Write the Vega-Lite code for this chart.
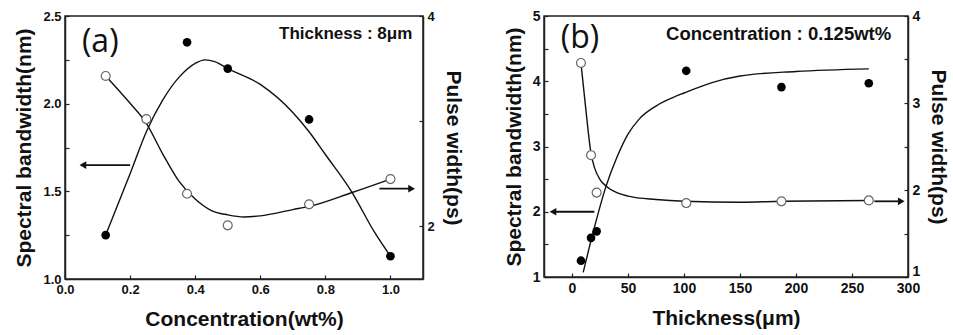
{
  "$schema": "https://vega.github.io/schema/vega-lite/v6.json",
  "background": "white",
  "padding": {"left": 13, "top": 8, "right": 0, "bottom": 0},
  "spacing": 38,
  "config": {
    "view": {"stroke": "#222", "strokeWidth": 1.5},
    "axis": {
      "labelFont": "Liberation Sans", "labelFontWeight": "bold", "labelFontSize": 13, "labelColor": "#111",
      "titleFont": "Liberation Sans", "titleFontWeight": "bold", "titleFontSize": 21, "titleColor": "#111",
      "domainColor": "#222", "domainWidth": 1.5, "tickColor": "#222", "tickWidth": 1.2, "tickSize": -4,
      "labelPadding": 8, "grid": false, "labelFlush": false, "labelOverlap": false
    }
  },
  "datasets": {
    "a_bw_pts": [{"x":0.125,"y":1.25},{"x":0.375,"y":2.35},{"x":0.5,"y":2.2},{"x":0.75,"y":1.91},{"x":1.0,"y":1.13}],
    "a_bw_fit": [{"x":0.125,"y":1.25},{"x":0.2,"y":1.6},{"x":0.25,"y":1.84},{"x":0.3,"y":2.02},{"x":0.35,"y":2.15},{"x":0.4,"y":2.23},{"x":0.43,"y":2.25},{"x":0.46,"y":2.24},{"x":0.5,"y":2.2},{"x":0.6,"y":2.11},{"x":0.7,"y":1.95},{"x":0.75,"y":1.84},{"x":0.8,"y":1.71},{"x":0.88,"y":1.5},{"x":0.95,"y":1.27},{"x":1.0,"y":1.13}],
    "a_pw_pts": [{"x":0.125,"y":3.43},{"x":0.25,"y":3.02},{"x":0.375,"y":2.31},{"x":0.5,"y":2.01},{"x":0.75,"y":2.21},{"x":1.0,"y":2.45}],
    "a_pw_fit": [{"x":0.125,"y":3.43},{"x":0.2,"y":3.17},{"x":0.25,"y":2.98},{"x":0.3,"y":2.69},{"x":0.35,"y":2.43},{"x":0.4,"y":2.26},{"x":0.45,"y":2.15},{"x":0.5,"y":2.11},{"x":0.55,"y":2.09},{"x":0.6,"y":2.1},{"x":0.7,"y":2.16},{"x":0.75,"y":2.19},{"x":0.88,"y":2.32},{"x":1.0,"y":2.45}],
    "a_arrows": [{"x":0.2,"x2":0.055,"y":1.65,"dir":"left"},{"x":0.966,"x2":1.065,"y":1.515,"dir":"right"}],
    "b_bw_pts": [{"x":8,"y":1.25},{"x":17,"y":1.6},{"x":22,"y":1.7},{"x":102,"y":4.16},{"x":187,"y":3.91},{"x":265,"y":3.97}],
    "b_bw_fit": [{"x":10,"y":1.07},{"x":20,"y":1.76},{"x":30,"y":2.37},{"x":40,"y":2.83},{"x":50,"y":3.19},{"x":60,"y":3.42},{"x":75,"y":3.62},{"x":90,"y":3.75},{"x":100,"y":3.82},{"x":125,"y":3.98},{"x":150,"y":4.08},{"x":200,"y":4.15},{"x":265,"y":4.19}],
    "b_pw_pts": [{"x":8,"y":3.46},{"x":17,"y":2.4},{"x":22,"y":1.97},{"x":102,"y":1.85},{"x":187,"y":1.87},{"x":265,"y":1.88}],
    "b_pw_fit": [{"x":8,"y":3.46},{"x":12,"y":2.97},{"x":17,"y":2.42},{"x":20,"y":2.26},{"x":25,"y":2.12},{"x":30,"y":2.05},{"x":40,"y":1.97},{"x":50,"y":1.93},{"x":75,"y":1.89},{"x":100,"y":1.87},{"x":150,"y":1.86},{"x":187,"y":1.87},{"x":265,"y":1.88}],
    "b_arrows": [{"x":20,"x2":-17,"y":2.0,"dir":"left"},{"x":270,"x2":294,"y":2.16,"dir":"right"}]
  },
  "hconcat": [
    {
      "width": 358, "height": 263,
      "resolve": {"scale": {"y": "independent"}},
      "layer": [
        {
          "encoding": {
            "x": {"field": "x", "type": "quantitative", "scale": {"domain": [0, 1.1], "nice": false, "zero": false},
                  "axis": {"title": "Concentration(wt%)", "values": [0,0.1,0.2,0.3,0.4,0.5,0.6,0.7,0.8,0.9,1.0,1.1], "labelExpr": "round(datum.value*10)%2==0 ? format(datum.value,'.1f') : ''", "titlePadding": 12}},
            "y": {"field": "y", "type": "quantitative", "scale": {"domain": [1, 2.5], "nice": false, "zero": false},
                  "axis": {"orient": "left", "title": "Spectral bandwidth(nm)", "values": [1,1.25,1.5,1.75,2,2.25,2.5], "labelExpr": "round(datum.value*4)%2==0 ? format(datum.value,'.1f') : ''", "titlePadding": 8}}
          },
          "layer": [
            {"data": {"name": "a_bw_fit"}, "mark": {"type": "line", "interpolate": "monotone", "color": "#111", "strokeWidth": 1.4}},
            {"data": {"name": "a_bw_pts"}, "mark": {"type": "point", "filled": true, "color": "#000", "size": 75, "opacity": 1}},
            {"data": {"name": "a_arrows"}, "mark": {"type": "rule", "color": "#111", "strokeWidth": 1.8}, "encoding": {"x2": {"field": "x2"}}},
            {"data": {"name": "a_arrows"}, "mark": {"type": "point", "filled": true, "color": "#111", "size": 60, "opacity": 1},
             "encoding": {"x": {"field": "x2", "type": "quantitative"}, "shape": {"field": "dir", "type": "nominal", "scale": {"domain": ["left","right"], "range": ["triangle-left","triangle-right"]}, "legend": null}}},
            {"data": {"values": [{"x": 0.052, "y": 2.35, "t": "(a)"}]}, "mark": {"type": "text", "align": "left", "baseline": "middle", "font": "Open Sans", "fontSize": 32, "color": "#111"}, "encoding": {"text": {"field": "t"}}},
            {"data": {"values": [{"x": 1.067, "y": 2.40, "t": "Thickness : 8μm"}]}, "mark": {"type": "text", "align": "right", "baseline": "middle", "font": "Liberation Sans", "fontWeight": "bold", "fontSize": 17, "color": "#111"}, "encoding": {"text": {"field": "t"}}}
          ]
        },
        {
          "encoding": {
            "x": {"field": "x", "type": "quantitative", "scale": {"domain": [0, 1.1], "nice": false, "zero": false}},
            "y": {"field": "y", "type": "quantitative", "scale": {"domain": [1.5, 4], "nice": false, "zero": false},
                  "axis": {"orient": "right", "title": "Pulse width(ps)", "values": [2,3,4], "labelExpr": "datum.value==3 ? '' : format(datum.value,'d')", "titlePadding": 8}}
          },
          "layer": [
            {"data": {"name": "a_pw_fit"}, "mark": {"type": "line", "interpolate": "monotone", "color": "#111", "strokeWidth": 1.4}},
            {"data": {"name": "a_pw_pts"}, "mark": {"type": "point", "filled": false, "fill": "white", "fillOpacity": 1, "stroke": "#666", "strokeWidth": 1.2, "size": 80, "opacity": 1}}
          ]
        }
      ]
    },
    {
      "width": 364, "height": 261,
      "resolve": {"scale": {"y": "independent"}},
      "layer": [
        {
          "encoding": {
            "x": {"field": "x", "type": "quantitative", "scale": {"domain": [-25, 300], "nice": false, "zero": false},
                  "axis": {"title": "Thickness(μm)", "values": [0,25,50,75,100,125,150,175,200,225,250,275,300], "labelExpr": "datum.value%50==0 ? format(datum.value,'d') : ''", "labelFontSize": 14, "titlePadding": 12}},
            "y": {"field": "y", "type": "quantitative", "scale": {"domain": [1, 5], "nice": false, "zero": false},
                  "axis": {"orient": "left", "title": "Spectral bandwidth(nm)", "values": [1,1.5,2,2.5,3,3.5,4,4.5,5], "labelExpr": "datum.value%1==0 ? format(datum.value,'d') : ''", "labelFontSize": 14, "titlePadding": 8}}
          },
          "layer": [
            {"data": {"name": "b_bw_fit"}, "mark": {"type": "line", "interpolate": "monotone", "color": "#111", "strokeWidth": 1.4}},
            {"data": {"name": "b_bw_pts"}, "mark": {"type": "point", "filled": true, "color": "#000", "size": 75, "opacity": 1}},
            {"data": {"name": "b_arrows"}, "mark": {"type": "rule", "color": "#111", "strokeWidth": 1.8}, "encoding": {"x2": {"field": "x2"}}},
            {"data": {"name": "b_arrows"}, "mark": {"type": "point", "filled": true, "color": "#111", "size": 60, "opacity": 1},
             "encoding": {"x": {"field": "x2", "type": "quantitative"}, "shape": {"field": "dir", "type": "nominal", "scale": {"domain": ["left","right"], "range": ["triangle-left","triangle-right"]}, "legend": null}}},
            {"data": {"values": [{"x": -10, "y": 4.66, "t": "(b)"}]}, "mark": {"type": "text", "align": "left", "baseline": "middle", "font": "Open Sans", "fontSize": 32, "color": "#111"}, "encoding": {"text": {"field": "t"}}},
            {"data": {"values": [{"x": 285, "y": 4.73, "t": "Concentration : 0.125wt%"}]}, "mark": {"type": "text", "align": "right", "baseline": "middle", "font": "Liberation Sans", "fontWeight": "bold", "fontSize": 18.5, "color": "#111"}, "encoding": {"text": {"field": "t"}}}
          ]
        },
        {
          "encoding": {
            "x": {"field": "x", "type": "quantitative", "scale": {"domain": [-25, 300], "nice": false, "zero": false}},
            "y": {"field": "y", "type": "quantitative", "scale": {"domain": [1, 4], "nice": false, "zero": false},
                  "axis": {"orient": "right", "title": "Pulse width(ps)", "values": [1,1.5,2,2.5,3,3.5,4], "labelExpr": "datum.value%1==0 ? format(datum.value,'d') : ''", "labelFontSize": 14, "titlePadding": 8,
                           "labelOffset": {"condition": {"test": "datum.value == 1", "value": -6}, "value": 0}}}
          },
          "layer": [
            {"data": {"name": "b_pw_fit"}, "mark": {"type": "line", "interpolate": "monotone", "color": "#111", "strokeWidth": 1.4}},
            {"data": {"name": "b_pw_pts"}, "mark": {"type": "point", "filled": false, "fill": "white", "fillOpacity": 1, "stroke": "#666", "strokeWidth": 1.2, "size": 80, "opacity": 1}}
          ]
        }
      ]
    }
  ]
}
